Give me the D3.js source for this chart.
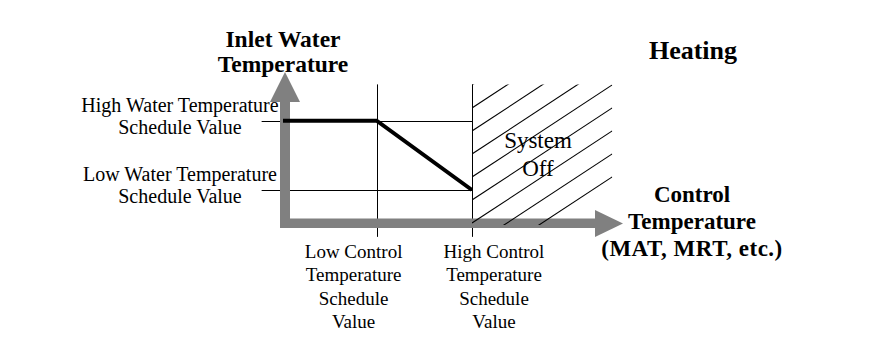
<!DOCTYPE html>
<html>
<head>
<meta charset="utf-8">
<script src="https://cdn.jsdelivr.net/npm/d3@7"></script>
<style>
  html, body { margin: 0; padding: 0; background: #fff; }
  svg { display: block; }
</style>
</head>
<body>
<script>
// ---- Data (schematic values) ----
const controlBreaks = [0.98, 2];            // Low / High control temperature schedule values
const controlLabels = [
  ["Low Control", "Temperature", "Schedule", "Value"],
  ["High Control", "Temperature", "Schedule", "Value"]
];
const waterBreaks = [3.1, 1];               // High / Low water temperature schedule values
const waterLabels = [
  ["High Water Temperature", "Schedule Value"],
  ["Low Water Temperature", "Schedule Value"]
];
const curveX = [0, 0.98, 2];
const curveY = [3.1, 3.1, 1];
const offRegion = [2, 3.5];                 // "System Off" control-temperature range
const yTitle = ["Inlet Water", "Temperature"];
const xTitle = ["Control", "Temperature", "(MAT, MRT, etc.)"];
const chartTitle = "Heating";
const offLabel = ["System", "Off"];

const FONT = "'Liberation Serif', 'Times New Roman', Times, 'DejaVu Serif', serif";

// ---- Scales ----
const W = 880, H = 355;
const x = d3.scaleLinear().domain([0, 2]).range([285, 472]);
const y = d3.scaleLinear().domain([0, 1]).range([223, 190]);
const yTop = 4.2, yBottom = -0.42, xLeft = -0.25;

const svg = d3.select("body").append("svg").attr("width", W).attr("height", H)
  .attr("font-family", FONT);

// thin reference lines (under the axes)
const grid = svg.append("g").attr("stroke", "#000").attr("stroke-width", 1);
grid.selectAll("line.h").data(waterBreaks).join("line")
  .attr("x1", x(xLeft)).attr("x2", x(controlBreaks[1]))
  .attr("y1", d => Math.round(y(d)) + 0.5).attr("y2", d => Math.round(y(d)) + 0.5);
grid.selectAll("line.v").data(controlBreaks).join("line")
  .attr("y1", y(yTop)).attr("y2", y(yBottom))
  .attr("x1", d => Math.round(x(d)) + 0.5).attr("x2", d => Math.round(x(d)) + 0.5);

// gray arrow axes
const gray = "#808080";
const ax = svg.append("g").attr("fill", gray);
const x0 = x(0), y0 = y(0);
ax.append("rect").attr("x", x0 - 5).attr("y", 100).attr("width", 10).attr("height", y0 + 5 - 100);
ax.append("path").attr("d", `M${x0 - 15},102 L${x0},72 L${x0 + 15},102 Z`);
ax.append("rect").attr("x", x0 - 5).attr("y", y0 - 4.5).attr("width", 597 - (x0 - 5)).attr("height", 9.5);
ax.append("path").attr("d", `M595,${y0 - 13} L623,${y0 + 0.5} L595,${y0 + 14} Z`);

// hatched "System Off" region
const hx0 = x(offRegion[0]), hx1 = x(offRegion[1]);
const hy0 = y(yTop), hy1 = y(-0.06);
svg.append("clipPath").attr("id", "hclip")
  .append("rect").attr("x", hx0).attr("y", hy0).attr("width", hx1 - hx0).attr("height", hy1 - hy0);
const slope = 0.657, step = 23;
const offsets = d3.range(-2, 14);
svg.append("g").attr("clip-path", "url(#hclip)").attr("stroke", "#000").attr("stroke-width", 1.1)
  .selectAll("line").data(offsets).join("line")
  .attr("x1", hx0).attr("y1", k => y0 - step * k)
  .attr("x2", hx1).attr("y2", k => y0 - step * k - slope * (hx1 - hx0));

// thick response line
svg.append("path")
  .datum(curveX.map((d, i) => [d, curveY[i]]))
  .attr("fill", "none").attr("stroke", "#000").attr("stroke-width", 4)
  .attr("stroke-linejoin", "miter")
  .attr("d", d3.line().x(d => x(d[0]) - (d[0] === 0 ? 2 : 0)).y(d => y(d[1])));

// ---- Text ----
svg.append("text").attr("text-anchor", "middle").attr("font-weight", "bold").attr("font-size", 23.5)
  .selectAll("tspan").data(yTitle).join("tspan")
  .attr("x", 283).attr("y", (d, i) => 47 + i * 25).text(d => d);

svg.append("text").attr("x", 693).attr("y", 59).attr("text-anchor", "middle")
  .attr("font-weight", "bold").attr("font-size", 26).text(chartTitle);

svg.append("text").attr("text-anchor", "middle").attr("font-weight", "bold").attr("font-size", 23)
  .selectAll("tspan").data(xTitle).join("tspan")
  .attr("x", 692).attr("y", (d, i) => 202 + i * 27)
  .attr("letter-spacing", (d, i) => i === 2 ? 0.5 : 0)
  .text(d => d);

waterLabels.forEach((lines, j) => {
  svg.append("text").attr("text-anchor", "middle").attr("font-size", 20)
    .selectAll("tspan").data(lines).join("tspan")
    .attr("x", 180).attr("y", (d, i) => y(waterBreaks[j]) - 9 + i * 22).text(d => d);
});

const ctrlDx = [-23, 22];
controlLabels.forEach((lines, j) => {
  svg.append("text").attr("text-anchor", "middle").attr("font-size", 19)
    .selectAll("tspan").data(lines).join("tspan")
    .attr("x", x(controlBreaks[j]) + ctrlDx[j]).attr("y", (d, i) => 258 + i * 23.4).text(d => d);
});

svg.append("text").attr("text-anchor", "middle").attr("font-size", 23)
  .selectAll("tspan").data(offLabel).join("tspan")
  .attr("x", 538).attr("y", (d, i) => 148 + i * 28).text(d => d);
</script>
</body>
</html>
